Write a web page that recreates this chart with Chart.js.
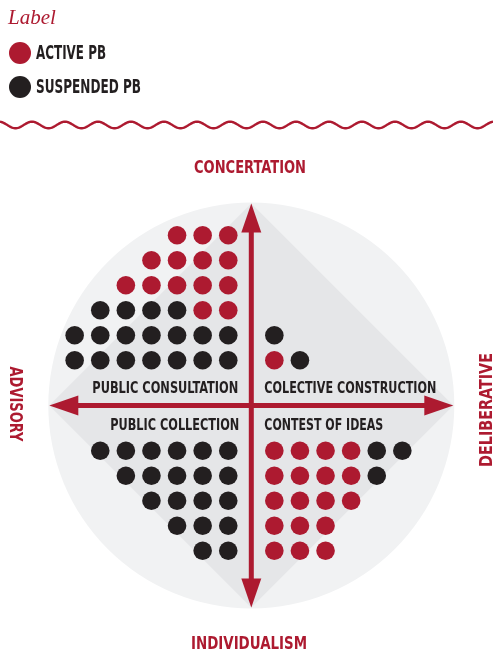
<!DOCTYPE html>
<html>
<head>
<meta charset="utf-8">
<script src="https://cdn.jsdelivr.net/npm/chart.js@4.4.1/dist/chart.umd.min.js"></script>
<style>
html,body{margin:0;padding:0;background:#ffffff;}
canvas{display:block;}
</style>
</head>
<body>
<canvas id="c" width="493" height="652"></canvas>
<script>
// ---- DATA ----
const legendTitle = 'Label';
const seriesNames = ['ACTIVE PB', 'SUSPENDED PB'];
const seriesCodes = ['A', 'S'];
const axisTop = 'CONCERTATION';
const axisBottom = 'INDIVIDUALISM';
const axisLeft = 'ADVISORY';
const axisRight = 'DELIBERATIVE';
const quadrantNames = ['PUBLIC CONSULTATION', 'COLECTIVE CONSTRUCTION', 'PUBLIC COLLECTION', 'CONTEST OF IDEAS'];
// dot grids, one string per visible row (top to bottom), characters left to right
// A = active, S = suspended, . = empty
const publicConsultation = ['....AAA', '...AAAA', '..AAAAA', '.SSSSAA', 'SSSSSSS', 'SSSSSSS']; // top-left
const colectiveConstruction = ['S', 'AS'];                                                   // top-right
const publicCollection = ['.SSSSSS', '..SSSSS', '...SSSS', '....SSS', '.....SS'];            // bottom-left
const contestOfIdeas = ['AAAASS', 'AAAAS', 'AAAA', 'AAA', 'AAA'];                             // bottom-right

// ---- STYLE ----
const RED = '#ad1a30';
const DARK = '#231f20';
const COND = '"Liberation Sans Narrow", "DejaVu Sans Condensed", "Roboto Condensed", "Open Sans", sans-serif';
const COL_OFFSET = 0.1, ROW_OFFSET = 0.81;

function buildPoints(rows, side, half, code) {
  const pts = [];
  const n = rows.length;
  rows.forEach((row, i) => {
    const r = half === 'top' ? n - i : i + 1;
    for (let j = 0; j < row.length; j++) {
      if (row[j] !== code) continue;
      const col = side === 'left' ? row.length - j : j + 1;
      const sx = side === 'left' ? -1 : 1;
      const sy = half === 'top' ? 1 : -1;
      pts.push({x: sx * (col - COL_OFFSET), y: sy * (r + ROW_OFFSET)});
    }
  });
  return pts;
}
function pointsFor(code) {
  return [].concat(
    buildPoints(publicConsultation, 'left', 'top', code),
    buildPoints(colectiveConstruction, 'right', 'top', code),
    buildPoints(publicCollection, 'left', 'bottom', code),
    buildPoints(contestOfIdeas, 'right', 'bottom', code)
  );
}

function fitText(ctx, text, x, y, align, width, size, font, color, weight) {
  ctx.save();
  ctx.font = (weight || 'bold') + ' ' + size + 'px ' + font;
  ctx.fillStyle = color;
  ctx.textBaseline = 'alphabetic';
  ctx.textAlign = 'left';
  if ('letterSpacing' in ctx) ctx.letterSpacing = '0px';
  const w = ctx.measureText(text).width;
  let left = align === 'center' ? x - width / 2 : (align === 'right' ? x - width : x);
  const base = y + size * 0.36;
  if (w <= width && 'letterSpacing' in ctx) {
    const sp = (width - w) / Math.max(1, text.length - 1);
    ctx.letterSpacing = sp + 'px';
    ctx.fillText(text, left, base);
  } else {
    ctx.translate(left, base);
    ctx.scale(width / w, 1);
    ctx.fillText(text, 0, 0);
  }
  ctx.restore();
}

function arrowHead(ctx, tx, ty, dx, dy, len, hw) {
  const bx = tx - dx * len, by = ty - dy * len;
  ctx.beginPath();
  ctx.moveTo(tx, ty);
  ctx.lineTo(bx - dy * hw, by + dx * hw);
  ctx.lineTo(bx + dy * hw, by - dx * hw);
  ctx.closePath();
  ctx.fill();
}

const decor = {
  id: 'decor',
  beforeDatasetsDraw(chart) {
    const ctx = chart.ctx;
    const xs = chart.scales.x, ys = chart.scales.y;
    const cx = xs.getPixelForValue(0), cy = ys.getPixelForValue(0);
    const R = 202, RC = 203;
    ctx.save();
    // circle
    ctx.fillStyle = '#f1f2f3';
    ctx.beginPath(); ctx.arc(cx, cy, RC, 0, Math.PI * 2); ctx.fill();
    // diamond
    ctx.fillStyle = '#e5e6e8';
    ctx.beginPath();
    ctx.moveTo(cx, cy - R); ctx.lineTo(cx + R, cy); ctx.lineTo(cx, cy + R); ctx.lineTo(cx - R, cy);
    ctx.closePath(); ctx.fill();
    // arrows
    const L = 29, HW = 10;
    ctx.strokeStyle = RED; ctx.fillStyle = RED; ctx.lineWidth = 5;
    ctx.beginPath();
    ctx.moveTo(cx - R + L - 1, cy); ctx.lineTo(cx + R - L + 1, cy);
    ctx.moveTo(cx, cy - R + L - 1); ctx.lineTo(cx, cy + R - L + 1);
    ctx.stroke();
    arrowHead(ctx, cx + R, cy, 1, 0, L, HW);
    arrowHead(ctx, cx - R, cy, -1, 0, L, HW);
    arrowHead(ctx, cx, cy - R, 0, -1, L, HW);
    arrowHead(ctx, cx, cy + R, 0, 1, L, HW);
    // quadrant labels
    fitText(ctx, quadrantNames[0], cx - 13, cy - 18, 'right', 146, 15, COND, DARK);
    fitText(ctx, quadrantNames[1], cx + 13, cy - 18, 'left', 172, 15, COND, DARK);
    fitText(ctx, quadrantNames[2], cx - 12, cy + 19, 'right', 129, 15, COND, DARK);
    fitText(ctx, quadrantNames[3], cx + 13, cy + 19, 'left', 119, 15, COND, DARK);
    // axis labels
    fitText(ctx, axisTop, 250, 166.7, 'center', 112, 17, COND, RED);
    fitText(ctx, axisBottom, 249, 643, 'center', 116, 17, COND, RED);
    ctx.save();
    ctx.translate(16, 404); ctx.rotate(Math.PI / 2);
    fitText(ctx, axisLeft, 0, 0, 'center', 75, 17, COND, RED);
    ctx.restore();
    ctx.save();
    ctx.translate(486, 410); ctx.rotate(-Math.PI / 2);
    fitText(ctx, axisRight, 0, 0, 'center', 114, 17, COND, RED);
    ctx.restore();
    // legend
    ctx.font = 'italic 21px "Liberation Serif", "DejaVu Serif", serif';
    ctx.fillStyle = RED; ctx.textAlign = 'left'; ctx.textBaseline = 'alphabetic';
    ctx.fillText(legendTitle, 8, 24);
    chart.data.datasets.forEach((ds, i) => {
      const yy = 53 + i * 34;
      ctx.fillStyle = ds.backgroundColor;
      ctx.beginPath(); ctx.arc(20, yy, 11, 0, Math.PI * 2); ctx.fill();
      fitText(ctx, ds.label, 36, yy - 0.5, 'left', i === 0 ? 70 : 105, 19, COND, DARK);
    });
    // wavy divider
    ctx.strokeStyle = RED; ctx.lineWidth = 2.4;
    ctx.beginPath();
    for (let x = 0; x <= chart.width; x += 1) {
      const y = 125 - 3.3 * Math.cos((x - 32) / 33 * Math.PI * 2);
      if (x === 0) ctx.moveTo(x, y); else ctx.lineTo(x, y);
    }
    ctx.stroke();
    ctx.restore();
  }
};

const X_UNIT = 25.6, Y_UNIT = 25, CXP = 251.3, CYP = 405.5, W = 493, H = 652;

new Chart(document.getElementById('c'), {
  type: 'scatter',
  data: {
    datasets: [
      {label: seriesNames[0], data: pointsFor(seriesCodes[0]), backgroundColor: RED, pointRadius: 9.3, pointHoverRadius: 9.3, borderWidth: 0},
      {label: seriesNames[1], data: pointsFor(seriesCodes[1]), backgroundColor: DARK, pointRadius: 9.3, pointHoverRadius: 9.3, borderWidth: 0}
    ]
  },
  options: {
    responsive: false,
    animation: false,
    events: [],
    layout: {padding: 0, autoPadding: false},
    plugins: {legend: {display: false}, tooltip: {enabled: false}},
    scales: {
      x: {type: 'linear', display: false, min: -CXP / X_UNIT, max: (W - CXP) / X_UNIT},
      y: {type: 'linear', display: false, min: -(H - CYP) / Y_UNIT, max: CYP / Y_UNIT}
    }
  },
  plugins: [decor]
});
</script>
</body>
</html>
